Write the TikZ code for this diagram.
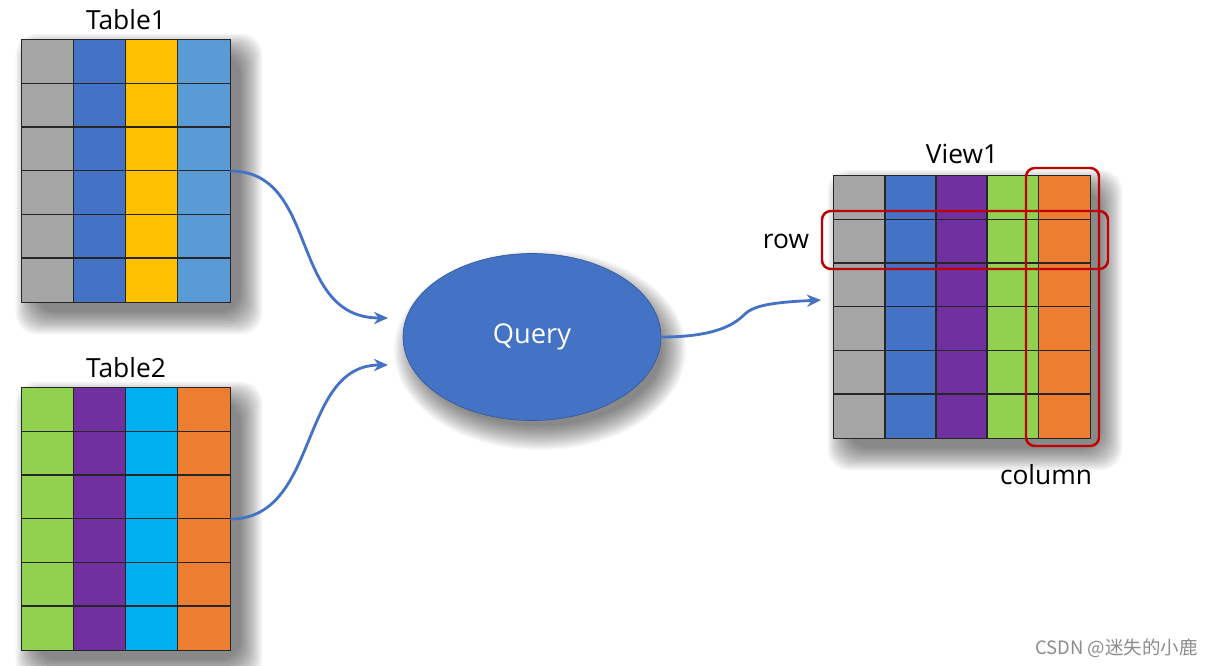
\documentclass[tikz,border=0pt]{standalone}
\usepackage{fontspec}
\setmainfont{Open Sans}
\newfontfamily\cjkfont{Noto Sans CJK SC}
\usetikzlibrary{arrows.meta,positioning,shapes.geometric}
\definecolor{cellgrey}{RGB}{165,165,165}
\definecolor{cellblue}{RGB}{68,114,196}
\definecolor{cellgold}{RGB}{255,192,0}
\definecolor{cellsky}{RGB}{91,155,213}
\definecolor{cellgreen}{RGB}{146,208,80}
\definecolor{cellpurple}{RGB}{112,48,160}
\definecolor{cellcyan}{RGB}{0,176,240}
\definecolor{cellorange}{RGB}{237,125,49}
\definecolor{framered}{RGB}{192,0,0}

\tikzset{
  tbl/.style={draw=black!75, fill=white, inner sep=0pt, minimum height=5.24cm},
  cellline/.style={draw=black!85, line width=0.9pt},
  title/.style={inner sep=0pt, font=\fontsize{15}{18}\selectfont},
  flow/.style={-{Stealth[length=8pt,width=7pt]}, line width=1.6pt, cellblue},
  redframe/.style={draw=framered, line width=1.4pt, rounded corners=5pt},
  haze/.style={fill=black, opacity=0.035}
}

% soft shadow behind a table node
\newcommand{\softshadow}[1]{%
  \foreach \k in {0,...,15}
    \fill[haze, rounded corners=12pt]
      ([shift={(-6+20*\k/15, 6-20*\k/15)}]#1.north west) rectangle
      ([shift={(32-22*\k/15, -32+22*\k/15)}]#1.south east);
}

% #1 node, #2 column width, #3 number of columns, #4 column colours
\newcommand{\fillcells}[4]{%
  \begin{scope}[shift={(#1.north west)}]
    \foreach \c [count=\i from 0] in {#4}
      \fill[\c] (\i*#2,0) rectangle ++(#2,-262);
    \foreach \i in {1,...,#3}
      \draw[cellline] (\i*#2-#2,0) -- ++(0,-262);
    \foreach \r in {1,...,5}
      \draw[cellline] (0,-\r*262/6) -- ++(#3*#2,0);
  \end{scope}
  \draw[cellline] (#1.north west) rectangle (#1.south east);
}

\begin{document}
\begin{tikzpicture}[x=0.02cm, y=0.02cm]
  \useasboundingbox[fill=white] (0,0) rectangle (1214,-666);

  % tables
  \node[tbl, minimum width=4.16cm] (t1) at (126,-171) {};
  \softshadow{t1}
  \fillcells{t1}{52}{4}{cellgrey,cellblue,cellgold,cellsky}
  \node[title, above=0.2cm of t1] (t1lbl) {Table1};

  \node[tbl, minimum width=4.16cm] (t2) at (126,-519) {};
  \softshadow{t2}
  \fillcells{t2}{52}{4}{cellgreen,cellpurple,cellcyan,cellorange}
  \node[title, above=0.2cm of t2] (t2lbl) {Table2};

  \node[tbl, minimum width=5.12cm] (v1) at (962,-307) {};
  \softshadow{v1}
  \fillcells{v1}{51.2}{5}{cellgrey,cellblue,cellpurple,cellgreen,cellorange}
  \node[title, above=0.24cm of v1] (v1lbl) {View1};

  % query
  \foreach \k in {0,...,15}
    \fill[haze] (540,-350) ellipse ({146-24*\k/15} and {100-24*\k/15});
  \node[ellipse, fill=cellblue, draw=cellblue!80!black, inner sep=0pt,
        minimum width=5.16cm, minimum height=3.34cm, text=white,
        font=\fontsize{15.5}{18}\selectfont] (q) at (532,-337) {Query};

  % highlights
  \draw[redframe] (1026,-168) rectangle (1099,-446);
  \draw[redframe] (822,-211) rectangle (1108,-269);
  \node[title] (rowlbl) at (786,-241) {row};
  \node[title] (collbl) at (1046,-475) {column};

  % arrows
  \coordinate (in1) at (388,-318);
  \coordinate (in2) at (388,-365);
  \coordinate (out) at (821,-300);
  \draw[flow] (t1.east) .. controls +(90,0) and +(-100,0) .. (in1);
  \draw[flow] (t2.east) .. controls +(90,0) and +(-90,0) .. (in2);
  \draw[flow] (q.east) .. controls +(55,0) and +(-10,-10) .. (745,-314)
    .. controls +(10,10) and +(-40,-2) .. (out);

  \node[anchor=east, text=black!45, inner sep=0pt,
        font=\cjkfont\fontsize{10.5}{12}\selectfont] (mark) at (1198,-648) {CSDN @迷失的小鹿};
\end{tikzpicture}
\end{document}
